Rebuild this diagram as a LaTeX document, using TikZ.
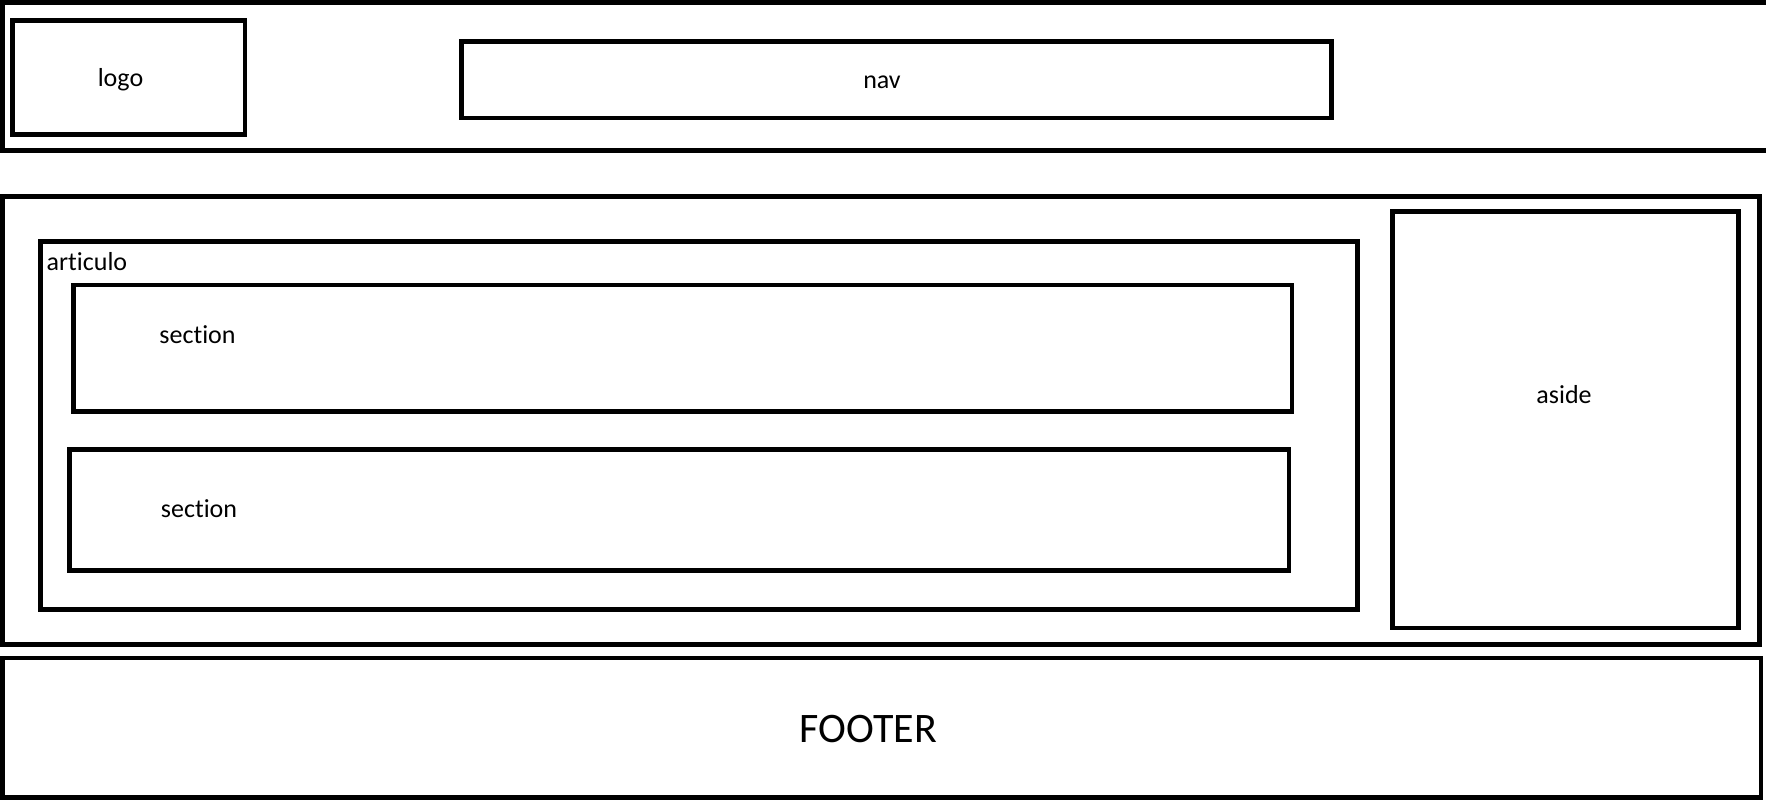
\documentclass[tikz,border=0pt]{standalone}
\usepackage{fontspec}
\setmainfont{Carlito}[Ligatures={NoCommon,NoRare,NoContextual}]
\begin{document}
\begin{tikzpicture}[x=1pt,y=-1pt,
  box/.style={draw=black, line width=4.9pt, rectangle, inner sep=0pt, fill=none},
  lbl/.style={inner sep=0pt, anchor=base, font=\fontsize{26}{31}\selectfont},
  biglbl/.style={inner sep=0pt, anchor=base, font=\fontsize{42}{50}\selectfont}]
\useasboundingbox[fill=white] (0,0) rectangle (1766,802);
\begin{scope}
\clip (0,0) rectangle (1766,802);
\node[box, minimum width=1797.8pt, minimum height=147.8pt] (header) at (901.1,76.25) {};
\end{scope}
\node[box, minimum width=232.5pt, minimum height=114pt] (logo) at (128.75,77.5) {};
\node[box, minimum width=870pt, minimum height=76.5pt] (nav) at (896.5,79.75) {};
\node[box, minimum width=1757pt, minimum height=448pt] (main) at (881,420.5) {};
\node[box, minimum width=1317pt, minimum height=368pt] (article) at (699,425.5) {};
\node[box, minimum width=1218.5pt, minimum height=126.5pt] (sec1) at (682.75,348.25) {};
\node[box, minimum width=1219.5pt, minimum height=121pt] (sec2) at (679.25,510) {};
\node[box, minimum width=346pt, minimum height=416.5pt] (aside) at (1565.5,419.75) {};
\node[box, minimum width=1758.5pt, minimum height=139.5pt] (footer) at (881.75,727.75) {};
\node[lbl] (logot) at (120.5,87) {logo};
\node[lbl] (navt) at (882,89) {nav};
\node[lbl, anchor=base west] (articulot) at (46.5,271) {articulo};
\node[lbl] (sec1t) at (197.5,343) {section};
\node[lbl] (sec2t) at (199,517) {section};
\node[lbl] (asidet) at (1564,403) {aside};
\node[biglbl] (footert) at (868.5,742) {FOOTER};
\end{tikzpicture}
\end{document}
